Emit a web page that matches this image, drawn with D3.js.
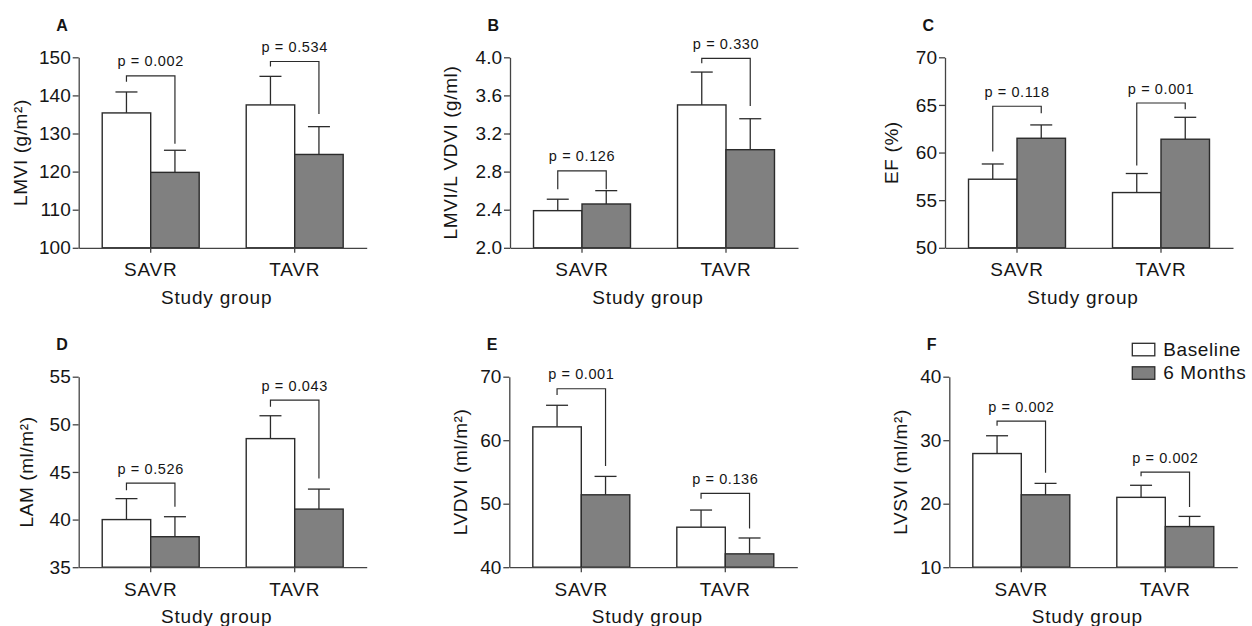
<!DOCTYPE html>
<html><head><meta charset="utf-8">
<script src="https://cdn.jsdelivr.net/npm/d3@7"></script>
<style>
body{margin:0;background:#fff}
svg{display:block}
text{font-family:"Liberation Sans",Arial,sans-serif;fill:#151515}
</style>
</head><body>
<svg id="c" width="1252" height="626"></svg>
<script>
// ---- data ----
const categories = ["SAVR", "TAVR"];
const seriesNames = ["Baseline", "6 Months"];
const panelLetters = ["A", "B", "C", "D", "E", "F"];
const yLabels = ["LMVI (g/m²)", "LMVI/L VDVI (g/ml)", "EF (%)", "LAM (ml/m²)", "LVDVI (ml/m²)", "LVSVI (ml/m²)"];
const xLabel = "Study group";
const yDomains = [[100, 150], [2, 4], [50, 70], [35, 55], [40, 70], [10, 40]];
const yTicks = [
  [100, 110, 120, 130, 140, 150],
  [2.0, 2.4, 2.8, 3.2, 3.6, 4.0],
  [50, 55, 60, 65, 70],
  [35, 40, 45, 50, 55],
  [40, 50, 60, 70],
  [10, 20, 30, 40]
];
const tickFormats = ["d", ".1f", "d", "d", "d", "d"];
// means [SAVR, TAVR]
const baselineMeans = [[135.4, 137.5], [2.39, 3.50], [57.2, 55.8], [40.0, 48.5], [62.1, 46.3], [27.9, 21.0]];
const sixMonthMeans = [[119.8, 124.5], [2.46, 3.03], [61.5, 61.4], [38.2, 41.1], [51.4, 42.1], [21.4, 16.4]];
// upper error (SEM) [SAVR, TAVR]
const baselineErr = [[5.5, 7.5], [0.12, 0.345], [1.6, 2.0], [2.2, 2.4], [3.4, 2.7], [2.8, 1.9]];
const sixMonthErr = [[5.8, 7.3], [0.14, 0.325], [1.4, 2.3], [2.1, 2.1], [2.9, 2.5], [1.8, 1.6]];
// p-values [SAVR, TAVR]
const pValues = [["0.002", "0.534"], ["0.126", "0.330"], ["0.118", "0.001"], ["0.526", "0.043"], ["0.001", "0.136"], ["0.002", "0.002"]];
// bracket levels in data units [left leg end, bracket top, right leg end]
const brackets = [
  [[143.6, 145.1, 127.3], [147.6, 148.9, 135.1]],
  [[2.616, 2.808, 2.616], [3.937, 3.989, 3.489]],
  [[60.1, 64.86, 64.13], [58.63, 65.2, 64.55]],
  [[43.09, 43.83, 41.34], [51.84, 52.55, 44.32]],
  [[67.11, 68.1, 55.92], [50.77, 51.62, 46.1]],
  [[32.27, 33.01, 24.86], [24.34, 24.97, 19.5]]
];

// ---- layout ----
const layout = [
  {x: 78.7, y: 57.3, lab: 58.7},
  {x: 510, y: 57.3, lab: 60},
  {x: 945, y: 57.3, lab: 53.3},
  {x: 78.7, y: 376.7, lab: 52},
  {x: 509.3, y: 376.7, lab: 49.3},
  {x: 949.3, y: 376.7, lab: 49.3}
];
const W = 288, H = 190.5;
const fills = {"Baseline": "#ffffff", "6 Months": "#808080"};
const ink = "#2b2b2b";

const svg = d3.select("#c");

layout.forEach((L, i) => {
  const g = svg.append("g").attr("transform", `translate(${L.x},${L.y})`);
  const y = d3.scaleLinear().domain(yDomains[i]).range([H, 0]);
  const x0 = d3.scaleBand().domain(categories).range([0, W]);
  const x1 = d3.scaleBand().domain(seriesNames).range([0, x0.bandwidth()]).paddingOuter(0.485);

  const rows = [];
  categories.forEach((c, ci) => {
    rows.push({c, s: "Baseline", v: baselineMeans[i][ci], e: baselineErr[i][ci]});
    rows.push({c, s: "6 Months", v: sixMonthMeans[i][ci], e: sixMonthErr[i][ci]});
  });

  // error bars (upper)
  const eg = g.append("g").attr("stroke", ink).attr("stroke-width", 1.3);
  rows.forEach(r => {
    const cx = x0(r.c) + x1(r.s) + x1.bandwidth() / 2;
    eg.append("line").attr("x1", cx).attr("x2", cx).attr("y1", y(r.v)).attr("y2", y(r.v + r.e));
    eg.append("line").attr("x1", cx - 11).attr("x2", cx + 11).attr("y1", y(r.v + r.e)).attr("y2", y(r.v + r.e));
  });

  // bars
  g.append("g").selectAll("rect").data(rows).join("rect")
    .attr("x", d => x0(d.c) + x1(d.s))
    .attr("y", d => y(d.v))
    .attr("width", x1.bandwidth())
    .attr("height", d => H - y(d.v))
    .attr("fill", d => fills[d.s])
    .attr("stroke", ink).attr("stroke-width", 1.4);

  // axes
  const ya = g.append("g").call(d3.axisLeft(y).tickValues(yTicks[i]).tickFormat(d3.format(tickFormats[i]))
    .tickSize(6).tickSizeOuter(0).tickPadding(2));
  const xa = g.append("g").attr("transform", `translate(0,${H})`)
    .call(d3.axisBottom(x0).tickSize(5).tickSizeOuter(0).tickPadding(10));
  [ya, xa].forEach(a => {
    a.select(".domain").attr("stroke", "#444").attr("stroke-width", 1.3);
    a.selectAll(".tick line").attr("stroke", "#444").attr("stroke-width", 1.3);
    a.selectAll("text").attr("fill", "#151515").style("font-size", "19px")
      .style("font-family", '"Liberation Sans",Arial,sans-serif');
  });
  xa.selectAll("text").style("letter-spacing", "0.8px");

  // brackets
  const bg = g.append("g");
  categories.forEach((c, ci) => {
    const b = brackets[i][ci];
    const xl = x0(c) + x1("Baseline") + x1.bandwidth() / 2;
    const xr = x0(c) + x1("6 Months") + x1.bandwidth() / 2;
    const path = d3.path();
    path.moveTo(xl, y(b[0])); path.lineTo(xl, y(b[1])); path.lineTo(xr, y(b[1])); path.lineTo(xr, y(b[2]));
    bg.append("path").attr("d", path.toString()).attr("fill", "none").attr("stroke", ink).attr("stroke-width", 1.2);
    bg.append("text").attr("x", x0(c) + x0.bandwidth() / 2).attr("y", y(b[1]) - 9.5)
      .attr("text-anchor", "middle").style("font-size", "14.5px").style("letter-spacing", "0.6px")
      .text("p = " + pValues[i][ci]);
  });

  // y label
  g.append("text")
    .attr("transform", `translate(${-L.lab},${H / 2}) rotate(-90)`)
    .attr("dy", "0.35em").attr("text-anchor", "middle")
    .style("font-size", "19px").style("letter-spacing", "0.6px")
    .text(yLabels[i]);

  // x label
  g.append("text").attr("x", W / 2 - 6).attr("y", H + 56).attr("text-anchor", "middle")
    .style("font-size", "19px").style("letter-spacing", "0.8px").text(xLabel);

  // panel letter
  g.append("text").attr("x", -22.5).attr("y", -26.5)
    .style("font-size", "16px").style("font-weight", "bold").text(panelLetters[i]);
});

// legend
const lg = svg.append("g").attr("transform", "translate(1132.3,343.3)");
seriesNames.forEach((s, k) => {
  lg.append("rect").attr("x", 0).attr("y", k * 23.5).attr("width", 22.5).attr("height", 12.5)
    .attr("fill", fills[s]).attr("stroke", ink).attr("stroke-width", 1.3);
  lg.append("text").attr("x", 31).attr("y", k * 23.5 + 12.5)
    .style("font-size", "19px").style("letter-spacing", "0.6px").text(s);
});
</script>
</body></html>
